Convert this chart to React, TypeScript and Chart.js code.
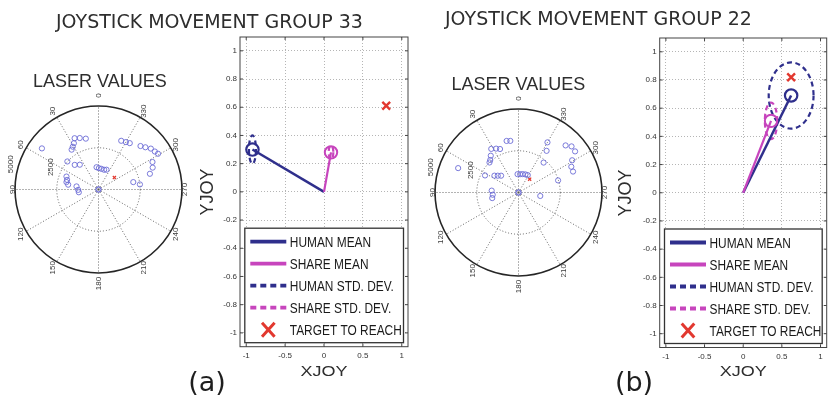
import React, { useEffect, useRef } from "react";
import { Chart, registerables } from "chart.js";

Chart.register(...registerables);
Chart.defaults.font.family = "'Liberation Sans', Arial, sans-serif";

// Laser scan of group 33: bearing (deg, counter-clockwise from heading) and range (mm)
const laserBearingA = [54, 25, 20, 14, 28, 31, 34, 48, 44, 37, 68, 73, 77, 81, 82, 91, 98, 5, 359, 352, 344, 338, 335, 330, 326, 316, 312, 308, 304, 301, 297, 292, 287, 282, 277, 0, 0];
const laserRangeA = [4190, 3390, 3280, 3140, 3140, 2990, 2880, 2510, 2050, 1860, 2070, 1970, 1970, 1840, 1330, 1220, 1190, 1340, 1280, 1250, 1230, 1280, 3220, 3280, 3350, 3620, 3780, 3980, 4070, 4160, 3630, 3500, 3220, 2130, 2500, 0, 0];
const goalBearingA = 307;
const goalRangeA = 1190;

// Laser scan of group 22
const laserBearingB = [68, 13, 9, 32, 27, 23, 37, 41, 44, 63, 55, 51, 46, 86, 95, 102, 3, 355, 347, 339, 332, 330, 326, 320, 315, 311, 306, 301, 296, 291, 287, 261, 0, 0];
const laserRangeB = [3900, 3170, 3130, 3080, 2950, 2830, 2760, 2580, 2500, 2250, 1760, 1600, 1450, 1610, 1550, 1610, 1100, 1100, 1130, 1160, 1180, 3470, 3010, 2340, 3990, 4210, 4190, 3750, 3520, 3500, 2480, 1320, 0, 0];
const goalBearingB = 320;
const goalRangeB = 1040;

// Polar grid
const polarSpokes = [0, 30, 60, 90, 120, 150, 180, 210, 240, 270, 300, 330];
const polarRings = [2500, 5000];

// Joystick summaries: [x, y] means and standard deviations
const humanMeanA: [number, number] = [-0.92, 0.3];
const humanStdA: [number, number] = [0.045, 0.1];
const shareMeanA: [number, number] = [0.09, 0.28];
const shareStdA: [number, number] = [0.03, 0.05];
const targetA: [number, number] = [0.8, 0.61];

const humanMeanB: [number, number] = [0.62, 0.69];
const humanStdB: [number, number] = [0.29, 0.235];
const shareMeanB: [number, number] = [0.36, 0.51];
const shareStdB: [number, number] = [0.08, 0.13];
const targetB: [number, number] = [0.62, 0.82];

const xTicks = [-1, -0.5, 0, 0.5, 1];
const yTicks = [-1, -0.8, -0.6, -0.4, -0.2, 0, 0.2, 0.4, 0.6, 0.8, 1];
const legendLabels = ["HUMAN MEAN", "SHARE MEAN", "HUMAN STD. DEV.", "SHARE STD. DEV.", "TARGET TO REACH"];

const HUMAN = "#2f2f8c";
const SHARE = "#c745bd";
const TARGET = "#e2382f";
const LASER = "#6c6cd6";
const SANS = "'Liberation Sans', Arial, sans-serif";

const polarXY = (deg: number, r: number) => {
  const t = (deg * Math.PI) / 180;
  return { x: -r * Math.sin(t), y: r * Math.cos(t) };
};

const fmt = (v: number) => String(Math.round(v * 100) / 100);

function PolarScan({ bearings, ranges, goalBearing, goalRange, left, top }: {
  bearings: number[]; ranges: number[]; goalBearing: number; goalRange: number; left: number; top: number;
}) {
  const ref = useRef<HTMLCanvasElement>(null);
  useEffect(() => {
    const gridPlugin = {
      id: "polarGrid",
      beforeDatasetsDraw(chart: any) {
        const { ctx } = chart;
        const sx = chart.scales.x;
        const sy = chart.scales.y;
        const px = (deg: number, r: number) => {
          const p = polarXY(deg, r);
          return [sx.getPixelForValue(p.x), sy.getPixelForValue(p.y)];
        };
        const [cx, cy] = px(0, 0);
        const rMax = polarRings[polarRings.length - 1];
        const rad = (r: number) => sx.getPixelForValue(r) - cx;
        ctx.save();
        ctx.strokeStyle = "#555";
        ctx.lineWidth = 0.9;
        ctx.setLineDash([1, 2]);
        polarSpokes.forEach((a) => {
          const [x2, y2] = px(a, rMax);
          ctx.beginPath();
          ctx.moveTo(cx, cy);
          ctx.lineTo(x2, y2);
          ctx.stroke();
        });
        polarRings.slice(0, -1).forEach((r) => {
          ctx.beginPath();
          ctx.arc(cx, cy, rad(r), 0, Math.PI * 2);
          ctx.stroke();
        });
        ctx.setLineDash([]);
        ctx.strokeStyle = "#262626";
        ctx.lineWidth = 1.6;
        ctx.beginPath();
        ctx.arc(cx, cy, rad(rMax), 0, Math.PI * 2);
        ctx.stroke();

        const R = rad(rMax);
        ctx.fillStyle = "#3a3a3a";
        ctx.font = `8px ${SANS}`;
        ctx.textAlign = "center";
        ctx.textBaseline = "middle";
        const vText = (s: string, x: number, y: number) => {
          ctx.save();
          ctx.translate(x, y);
          ctx.rotate(-Math.PI / 2);
          ctx.fillText(s, 0, 0);
          ctx.restore();
        };
        // rotated labels sit a little further out along the vertical than the horizontal
        polarSpokes.forEach((a) => {
          const t = (a * Math.PI) / 180;
          const rr = R + 6.5 + 4 * Math.pow(Math.cos(2 * t), 3);
          vText(String(a), cx - rr * Math.sin(t), cy - rr * Math.cos(t));
        });
        const ringLabelAngle = [65, 74];
        const ringLabelGap = [11, 8];
        polarRings.forEach((r, i) => {
          const t = (ringLabelAngle[i] * Math.PI) / 180;
          const rr = rad(r) + ringLabelGap[i];
          vText(String(r), cx - rr * Math.sin(t), cy - rr * Math.cos(t));
        });
        ctx.restore();
      },
    };

    const L = 6500;
    const chart = new Chart(ref.current!, {
      type: "scatter",
      data: {
        datasets: [
          {
            data: bearings.map((b, i) => polarXY(b, ranges[i])),
            pointStyle: "circle",
            pointRadius: 2.6,
            pointBorderWidth: 0.9,
            borderColor: LASER,
            pointBorderColor: LASER,
            backgroundColor: "rgba(0,0,0,0)",
            pointBackgroundColor: "rgba(0,0,0,0)",
          },
          {
            data: [polarXY(goalBearing, goalRange)],
            pointStyle: "crossRot",
            pointRadius: 2.2,
            pointBorderWidth: 1.3,
            borderColor: TARGET,
            pointBorderColor: TARGET,
          },
        ],
      },
      options: {
        responsive: false,
        animation: false,
        events: [],
        layout: { padding: 0, autoPadding: false },
        scales: {
          x: { type: "linear", min: -L, max: L, display: false },
          y: { type: "linear", min: -L, max: L, display: false },
        },
        plugins: { legend: { display: false }, tooltip: { enabled: false } },
      },
      plugins: [gridPlugin],
    } as any);
    return () => chart.destroy();
  }, []);
  return <canvas ref={ref} width={217} height={217} style={{ position: "absolute", left, top }} />;
}

type Frame = { left: number; top: number; width: number; height: number; padTop: number; padRight: number; yAxisW: number; xAxisH: number };

function JoystickPlot({ human, humanStd, share, shareStd, target, frame }: {
  human: [number, number]; humanStd: [number, number]; share: [number, number]; shareStd: [number, number]; target: [number, number]; frame: Frame;
}) {
  const ref = useRef<HTMLCanvasElement>(null);
  useEffect(() => {
    const ellipsePlugin = {
      id: "stdEllipses",
      beforeDatasetsDraw(chart: any) {
        const { ctx } = chart;
        const sx = chart.scales.x;
        const sy = chart.scales.y;
        const items: [[number, number], [number, number], string][] = [
          [human, humanStd, HUMAN],
          [share, shareStd, SHARE],
        ];
        ctx.save();
        ctx.lineWidth = 2.2;
        ctx.setLineDash([5, 3.5]);
        items.forEach(([m, s, c]) => {
          const cx = sx.getPixelForValue(m[0]);
          const cy = sy.getPixelForValue(m[1]);
          const rx = Math.abs(sx.getPixelForValue(m[0] + s[0]) - cx);
          const ry = Math.abs(sy.getPixelForValue(m[1] + s[1]) - cy);
          ctx.strokeStyle = c;
          ctx.beginPath();
          ctx.ellipse(cx, cy, rx, ry, 0, 0, Math.PI * 2);
          ctx.stroke();
        });
        ctx.restore();
      },
    };

    const boxPlugin = {
      id: "axesBox",
      afterDatasetsDraw(chart: any) {
        const { ctx, chartArea: ca } = chart;
        const sx = chart.scales.x;
        const sy = chart.scales.y;
        ctx.save();
        ctx.strokeStyle = "#444";
        ctx.lineWidth = 1;
        ctx.strokeRect(ca.left, ca.top, ca.right - ca.left, ca.bottom - ca.top);
        const t = 3;
        ctx.beginPath();
        xTicks.forEach((v) => {
          const x = sx.getPixelForValue(v);
          ctx.moveTo(x, ca.bottom);
          ctx.lineTo(x, ca.bottom - t);
          ctx.moveTo(x, ca.top);
          ctx.lineTo(x, ca.top + t);
        });
        yTicks.forEach((v) => {
          const y = sy.getPixelForValue(v);
          ctx.moveTo(ca.left, y);
          ctx.lineTo(ca.left + t, y);
          ctx.moveTo(ca.right, y);
          ctx.lineTo(ca.right - t, y);
        });
        ctx.stroke();
        ctx.restore();
      },
    };

    const legendPlugin = {
      id: "joyLegend",
      afterDraw(chart: any) {
        const { ctx, chartArea: ca } = chart;
        const left = ca.left + 4.8;
        const right = ca.right - 4.5;
        const bottom = ca.bottom - 4;
        const top = bottom - 114.5;
        ctx.save();
        ctx.fillStyle = "#fff";
        ctx.fillRect(left, top, right - left, bottom - top);
        ctx.strokeStyle = "#333";
        ctx.lineWidth = 1.3;
        ctx.strokeRect(left, top, right - left, bottom - top);
        const styles = [
          { color: HUMAN, dash: [] as number[] },
          { color: SHARE, dash: [] as number[] },
          { color: HUMAN, dash: [6, 4] },
          { color: SHARE, dash: [6, 4] },
          { color: TARGET, dash: null },
        ];
        legendLabels.forEach((label, i) => {
          const yy = top + 13.5 + i * 22;
          const x0 = left + 5.5;
          const x1 = left + 41.5;
          const st = styles[i];
          ctx.strokeStyle = st.color;
          if (st.dash) {
            ctx.setLineDash(st.dash);
            ctx.lineWidth = 3.8;
            ctx.beginPath();
            ctx.moveTo(x0, yy);
            ctx.lineTo(x1, yy);
            ctx.stroke();
          } else {
            const mx = (x0 + x1) / 2;
            const h = 7;
            ctx.setLineDash([]);
            ctx.lineWidth = 3;
            ctx.beginPath();
            ctx.moveTo(mx - h * 0.9, yy - h);
            ctx.lineTo(mx + h * 0.9, yy + h);
            ctx.moveTo(mx + h * 0.9, yy - h);
            ctx.lineTo(mx - h * 0.9, yy + h);
            ctx.stroke();
          }
          ctx.setLineDash([]);
          ctx.fillStyle = "#1a1a1a";
          ctx.font = `14px ${SANS}`;
          ctx.textAlign = "left";
          ctx.textBaseline = "alphabetic";
          ctx.save();
          ctx.translate(left + 45, yy + 5);
          ctx.scale(0.85, 1);
          ctx.fillText(label, 0, 0);
          ctx.restore();
        });
        ctx.restore();
      },
    };

    const tickFont = { size: 8 };
    const chart = new Chart(ref.current!, {
      type: "scatter",
      data: {
        datasets: [
          {
            data: [{ x: 0, y: 0 }, { x: share[0], y: share[1] }],
            showLine: true,
            borderColor: SHARE,
            backgroundColor: "rgba(0,0,0,0)",
            borderWidth: 2.2,
            pointStyle: "circle",
            pointRadius: [0, 6.2],
            pointBorderWidth: 2,
            pointBorderColor: SHARE,
            pointBackgroundColor: "rgba(0,0,0,0)",
          },
          {
            data: [{ x: 0, y: 0 }, { x: human[0], y: human[1] }],
            showLine: true,
            borderColor: HUMAN,
            backgroundColor: "rgba(0,0,0,0)",
            borderWidth: 2.5,
            pointStyle: "circle",
            pointRadius: [0, 6.2],
            pointBorderWidth: 2.2,
            pointBorderColor: HUMAN,
            pointBackgroundColor: "rgba(0,0,0,0)",
          },
          {
            data: [{ x: target[0], y: target[1] }],
            pointStyle: "crossRot",
            pointRadius: 5.5,
            pointBorderWidth: 2.4,
            borderColor: TARGET,
            pointBorderColor: TARGET,
          },
        ],
      },
      options: {
        responsive: false,
        animation: false,
        events: [],
        layout: { padding: { top: frame.padTop, right: frame.padRight, left: 0, bottom: 0 }, autoPadding: false },
        scales: {
          x: {
            type: "linear",
            min: -1.08,
            max: 1.08,
            bounds: "data",
            afterBuildTicks: (s: any) => {
              s.ticks = xTicks.map((v) => ({ value: v }));
            },
            afterFit: (s: any) => {
              s.height = frame.xAxisH;
              s.paddingLeft = 0;
              s.paddingRight = 0;
            },
            ticks: { callback: (v: any) => fmt(Number(v)), autoSkip: false, maxRotation: 0, minRotation: 0, padding: 4, color: "#333", font: tickFont },
            grid: { color: "#b5b5b5", lineWidth: 1, drawTicks: false },
            border: { display: false, dash: [1, 2] },
          },
          y: {
            type: "linear",
            min: -1.098,
            max: 1.098,
            bounds: "data",
            afterBuildTicks: (s: any) => {
              s.ticks = yTicks.map((v) => ({ value: v }));
            },
            afterFit: (s: any) => {
              s.width = frame.yAxisW;
              s.paddingTop = 0;
              s.paddingBottom = 0;
            },
            ticks: { callback: (v: any) => fmt(Number(v)), autoSkip: false, padding: 3, color: "#333", font: tickFont },
            grid: { color: "#b5b5b5", lineWidth: 1, drawTicks: false },
            border: { display: false, dash: [1, 2] },
          },
        },
        plugins: { legend: { display: false }, tooltip: { enabled: false } },
      },
      plugins: [ellipsePlugin, boxPlugin, legendPlugin],
    } as any);
    return () => chart.destroy();
  }, []);
  return (
    <canvas
      ref={ref}
      width={frame.width}
      height={frame.height}
      style={{ position: "absolute", left: frame.left, top: frame.top }}
    />
  );
}

const textBase: React.CSSProperties = { position: "absolute", whiteSpace: "nowrap", lineHeight: 1, color: "#2e2e2e" };

function Text({ children, style }: { children: React.ReactNode; style: React.CSSProperties }) {
  return <div style={{ ...textBase, ...style }}>{children}</div>;
}

export default function App() {
  const frameA: Frame = { left: 200, top: 30, width: 215, height: 331, padTop: 7, padRight: 7, yAxisW: 40, xAxisH: 14.3 };
  const frameB: Frame = { left: 620, top: 30, width: 215, height: 331, padTop: 8, padRight: 8.3, yAxisW: 39.7, xAxisH: 13.5 };
  return (
    <div style={{ position: "absolute", left: 0, top: 0, width: 839, height: 402, background: "#fff", overflow: "hidden" }}>
      <PolarScan bearings={laserBearingA} ranges={laserRangeA} goalBearing={goalBearingA} goalRange={goalRangeA} left={-10} top={81} />
      <JoystickPlot human={humanMeanA} humanStd={humanStdA} share={shareMeanA} shareStd={shareStdA} target={targetA} frame={frameA} />
      <PolarScan bearings={laserBearingB} ranges={laserRangeB} goalBearing={goalBearingB} goalRange={goalRangeB} left={410} top={84} />
      <JoystickPlot human={humanMeanB} humanStd={humanStdB} share={shareMeanB} shareStd={shareStdB} target={targetB} frame={frameB} />

      <Text style={{ left: 56, top: 12, fontFamily: "'DejaVu Sans', sans-serif", fontSize: 19 }}>JOYSTICK MOVEMENT GROUP 33</Text>
      <Text style={{ left: 445, top: 9, fontFamily: "'DejaVu Sans', sans-serif", fontSize: 19 }}>JOYSTICK MOVEMENT GROUP 22</Text>
      <Text style={{ left: 33, top: 72, fontFamily: SANS, fontSize: 18 }}>LASER VALUES</Text>
      <Text style={{ left: 451.5, top: 75, fontFamily: SANS, fontSize: 18 }}>LASER VALUES</Text>

      <Text style={{ left: 206.5, top: 192.3, fontFamily: SANS, fontSize: 18, transform: "translate(-50%, -50%) rotate(-90deg)" }}>YJOY</Text>
      <Text style={{ left: 624.5, top: 193.3, fontFamily: SANS, fontSize: 18, transform: "translate(-50%, -50%) rotate(-90deg)" }}>YJOY</Text>
      <Text style={{ left: 324, top: 371, fontFamily: SANS, fontSize: 18, transform: "translate(-50%, -50%) scaleY(0.8)" }}>XJOY</Text>
      <Text style={{ left: 743.3, top: 371, fontFamily: SANS, fontSize: 18, transform: "translate(-50%, -50%) scaleY(0.8)" }}>XJOY</Text>

      <Text style={{ left: 207, top: 381, fontFamily: "'DejaVu Sans', sans-serif", fontSize: 27, color: "#1e1e1e", transform: "translate(-50%, -50%)" }}>(a)</Text>
      <Text style={{ left: 634, top: 381, fontFamily: "'DejaVu Sans', sans-serif", fontSize: 27, color: "#1e1e1e", transform: "translate(-50%, -50%)" }}>(b)</Text>
    </div>
  );
}
